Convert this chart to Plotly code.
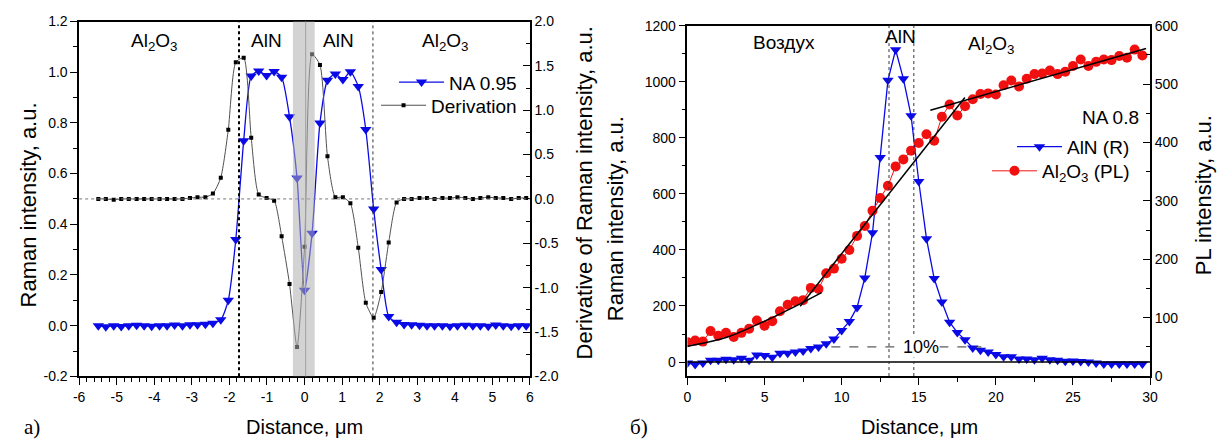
import plotly.graph_objects as go

W, H = 1227, 448
FONT = "Liberation Sans, Arial, sans-serif"

# ---------------- Panel a) data ----------------
dist_a = [-5.49, -5.29, -5.08, -4.88, -4.68, -4.47, -4.27, -4.07, -3.86, -3.66,
          -3.46, -3.25, -3.05, -2.85, -2.64, -2.44, -2.23, -2.03, -1.83, -1.62,
          -1.42, -1.22, -1.01, -0.81, -0.61, -0.40, -0.20, 0.00, 0.20, 0.41,
          0.61, 0.82, 1.02, 1.22, 1.43, 1.63, 1.84, 2.04, 2.24, 2.45,
          2.65, 2.85, 3.06, 3.26, 3.46, 3.67, 3.87, 4.07, 4.28, 4.48,
          4.68, 4.89, 5.09, 5.29, 5.50, 5.70, 5.90]
na095 = [0.0, -0.004, 0.0, -0.003, 0.0, 0.002, 0.0, -0.002, 0.0, 0.0,
         0.003, 0.0, 0.004, 0.004, 0.006, 0.01, 0.023, 0.10, 0.34, 0.73,
         0.985, 1.005, 0.987, 1.003, 0.98, 0.824, 0.583, 0.14, 0.365, 0.80,
         0.968, 0.993, 0.971, 1.002, 0.944, 0.774, 0.46, 0.222, 0.036, 0.013,
         0.005, 0.004, 0.002, 0.0, 0.0, 0.0, -0.002, 0.0, 0.002, 0.0,
         0.0, -0.002, 0.003, 0.0, -0.002, 0.0, 0.0]
derivation = [0.0, 0.0, -0.01, 0.0, 0.0, 0.0, 0.0, 0.0, 0.0, 0.0,
              0.0, 0.0, 0.01, 0.02, 0.02, 0.06, 0.24, 0.78, 1.54, 1.59,
              0.69, 0.05, 0.01, -0.02, -0.42, -0.96, -1.67, -0.54, 1.63, 1.51,
              0.48, 0.02, 0.02, -0.05, -0.55, -1.17, -1.34, -1.05, -0.49, -0.04,
              0.0, 0.0, 0.01, 0.01, 0.0, 0.01, 0.01, 0.02, 0.01, 0.0,
              0.01, 0.02, 0.01, 0.01, 0.0, 0.01, 0.01]
bound_a = [-1.745, 1.82]          # interface positions
band_a = [-0.31, 0.27]            # grey shaded region
center_a = 0.03

xticks_a = [-6, -5, -4, -3, -2, -1, 0, 1, 2, 3, 4, 5, 6]
yticks_a = [-0.2, 0.0, 0.2, 0.4, 0.6, 0.8, 1.0, 1.2]
y2ticks_a = [-2.0, -1.5, -1.0, -0.5, 0.0, 0.5, 1.0, 1.5, 2.0]

# ---------------- Panel б) data ----------------
dist_b = [0.0, 0.5, 1.0, 1.5, 2.0, 2.5, 3.0, 3.5, 4.0, 4.5,
          5.0, 5.5, 6.0, 6.5, 7.0, 7.5, 8.0, 8.5, 9.0, 9.5,
          10.0, 10.5, 11.0, 11.5, 12.0, 12.5, 13.0, 13.5, 14.0, 14.5,
          15.0, 15.5, 16.0, 16.5, 17.0, 17.5, 18.0, 18.5, 19.0, 19.5,
          20.0, 20.5, 21.0, 21.5, 22.0, 22.5, 23.0, 23.5, 24.0, 24.5,
          25.0, 25.5, 26.0, 26.5, 27.0, 27.5, 28.0, 28.5, 29.0, 29.5]
aln_r = [-3, -9, -3, 6, 6, 10, 8, 14, 6, 25,
         23, 17, 31, 31, 36, 39, 48, 54, 65, 82,
         113, 145, 195, 300, 461, 730, 1005, 1114, 1011, 879,
         644, 440, 298, 214, 142, 105, 80, 50, 42, 36,
         27, 19, 19, 11, 11, 8, 14, 8, 6, 3,
         4, 2, 0, -3, -7, -7, -7, -7, -7, -7]
al2o3_pl = [58, 61, 59, 77, 69, 74, 67, 74, 81, 95,
            86, 94, 111, 122, 128, 130, 151, 149, 176, 184,
            201, 216, 240, 257, 283, 305, 326, 359, 371, 386,
            399, 414, 403, 444, 465, 446, 462, 474, 483, 484,
            482, 498, 506, 496, 509, 517, 518, 523, 517, 521,
            531, 542, 531, 538, 542, 541, 548, 545, 559, 549]
fit1_x = [0.0, 2.5, 4.5, 6.5, 8.7]
fit1_y = [51, 66, 88, 113, 143]
fit2_x = [7.31, 17.99]
fit2_y = [119.5, 477]
fit3_x = [15.75, 29.74]
fit3_y = [455, 561]
bound_b = [13.07, 14.68]
level10_x = [9.33, 19.06]
level10_y = 54

BLUE = "#0a0ae6"
RED = "#f01010"

fig = go.Figure()

# Panel a traces
fig.add_trace(go.Scatter(x=dist_a, y=derivation, name="Derivation", yaxis="y2", xaxis="x",
                         mode="lines+markers", line=dict(color="#505050", width=1, shape="spline", smoothing=0.6),
                         marker=dict(symbol="square", size=4, color="black"), legend="legend2"))
fig.add_trace(go.Scatter(x=dist_a, y=na095, name="NA 0.95", yaxis="y", xaxis="x",
                         mode="lines+markers", line=dict(color=BLUE, width=1.3, shape="spline", smoothing=0.6),
                         marker=dict(symbol="triangle-down", size=10, color=BLUE), legend="legend"))

# Panel b traces
fig.add_trace(go.Scatter(x=dist_b, y=al2o3_pl, name="Al<sub>2</sub>O<sub>3</sub> (PL)", xaxis="x2", yaxis="y4",
                         mode="lines+markers", line=dict(color=RED, width=1),
                         marker=dict(symbol="circle", size=10, color=RED), legend="legend4"))
fig.add_trace(go.Scatter(x=dist_b, y=aln_r, name="AlN (R)", xaxis="x2", yaxis="y3",
                         mode="lines+markers", line=dict(color=BLUE, width=1.3),
                         marker=dict(symbol="triangle-down", size=10, color=BLUE), legend="legend3"))
for fx, fy in [(fit1_x, fit1_y), (fit2_x, fit2_y), (fit3_x, fit3_y)]:
    fig.add_trace(go.Scatter(x=fx, y=fy, xaxis="x2", yaxis="y4", mode="lines", showlegend=False,
                             line=dict(color="black", width=1.5, shape="spline"), hoverinfo="skip"))

tickfont = dict(family=FONT, size=14, color="black")
axis_common = dict(showgrid=False, zeroline=False, showline=True, linecolor="black", linewidth=1.5,
                   tickfont=tickfont, tickcolor="black", tickwidth=1)

leg_common = dict(xanchor="right", yanchor="middle", bgcolor="rgba(0,0,0,0)",
                  font=dict(family=FONT, size=19), itemwidth=45)

fig.update_layout(
    width=W, height=H, margin=dict(l=0, r=0, t=0, b=0),
    paper_bgcolor="white", plot_bgcolor="white",
    font=dict(family=FONT, color="black"),
    xaxis=dict(domain=[74 / W, 530 / W], range=[-6, 6], anchor="y", mirror=True,
               tickmode="array", tickvals=xticks_a, ticktext=[str(v) for v in xticks_a],
               ticks="outside", ticklen=7,
               minor=dict(tick0=-6, dtick=0.2, ticks="outside", ticklen=4, tickcolor="black"),
               **axis_common),
    yaxis=dict(domain=[1 - 382 / H, 1 - 14 / H], range=[-0.2, 1.2], anchor="x",
               tickmode="array", tickvals=yticks_a, ticktext=[f"{v:.1f}" for v in yticks_a],
               ticks="outside", ticklen=7,
               minor=dict(tick0=-0.2, dtick=0.1, ticks="outside", ticklen=4, tickcolor="black"),
               **axis_common),
    yaxis2=dict(overlaying="y", side="right", anchor="x", range=[-2, 2],
                tickmode="array", tickvals=y2ticks_a, ticktext=[f"{v:.1f}" for v in y2ticks_a],
                ticks="inside", ticklen=7,
                minor=dict(tick0=-2, dtick=0.25, ticks="inside", ticklen=4, tickcolor="black"),
                **axis_common),
    xaxis2=dict(domain=[689.3 / W, 1157.3 / W], range=[0, 30], anchor="y3", mirror=True,
                dtick=5, ticks="outside", ticklen=7,
                minor=dict(dtick=2.5, ticks="outside", ticklen=4, tickcolor="black"),
                **axis_common),
    yaxis3=dict(domain=[1 - 381.7 / H, 1 - 18.3 / H], range=[-50, 1200], anchor="x2",
                tick0=0, dtick=200, ticks="outside", ticklen=7,
                minor=dict(tick0=0, dtick=100, ticks="outside", ticklen=4, tickcolor="black"),
                **axis_common),
    yaxis4=dict(overlaying="y3", side="right", anchor="x2", range=[0, 600],
                dtick=100, ticks="inside", ticklen=7,
                minor=dict(dtick=50, ticks="inside", ticklen=4, tickcolor="black"),
                **axis_common),
    legend=dict(x=522 / W, y=1 - 77 / H, **leg_common),
    legend2=dict(x=522 / W, y=1 - 101 / H, **leg_common),
    legend3=dict(x=1142 / W, y=1 - 144 / H, **leg_common),
    legend4=dict(x=1142 / W, y=1 - 169 / H, **leg_common),
)

shapes = []
# panel a reference lines
shapes.append(dict(type="line", xref="x", yref="y2", x0=-6, x1=6, y0=0, y1=0,
                   line=dict(color="#777777", width=1, dash="dot")))
shapes.append(dict(type="line", xref="x", yref="y domain", x0=bound_a[0], x1=bound_a[0], y0=0, y1=1,
                   line=dict(color="black", width=2, dash="dot")))
shapes.append(dict(type="line", xref="x", yref="y domain", x0=bound_a[1], x1=bound_a[1], y0=0, y1=1,
                   line=dict(color="#333333", width=1, dash="dot")))
shapes.append(dict(type="rect", xref="x", yref="y domain", x0=band_a[0], x1=band_a[1], y0=0, y1=1,
                   fillcolor="rgba(175,175,175,0.55)", line=dict(width=0), layer="above"))
shapes.append(dict(type="line", xref="x", yref="y domain", x0=center_a, x1=center_a, y0=0, y1=1,
                   line=dict(color="#a0a0a0", width=1), layer="above"))
# panel b reference lines
shapes.append(dict(type="line", xref="x2", yref="y3", x0=0, x1=30, y0=0, y1=0,
                   line=dict(color="black", width=1.5)))
for bx in bound_b:
    shapes.append(dict(type="line", xref="x2", yref="y3 domain", x0=bx, x1=bx, y0=0, y1=1,
                       line=dict(color="#333333", width=1, dash="dot")))
shapes.append(dict(type="line", xref="x2", yref="y3", x0=level10_x[0], x1=level10_x[1],
                   y0=level10_y, y1=level10_y, line=dict(color="#333333", width=1, dash="dash")))
fig.update_layout(shapes=shapes)

ann = []
lab = dict(family=FONT, size=19, color="black")
AL2O3 = "Al<sub>2</sub>O<sub>3</sub>"
C = dict(showarrow=False, xanchor="center", yanchor="middle")
ann.append(dict(x=-4.0, y=1.12, xref="x", yref="y", text=AL2O3, font=lab, **C))
ann.append(dict(x=-1.02, y=1.127, xref="x", yref="y", text="AlN", font=lab, **C))
ann.append(dict(x=0.91, y=1.127, xref="x", yref="y", text="AlN", font=lab, **C))
ann.append(dict(x=3.76, y=1.12, xref="x", yref="y", text=AL2O3, font=lab, **C))
ann.append(dict(x=6.24, y=1139, xref="x2", yref="y3", text="Воздух", font=lab, **C))
ann.append(dict(x=13.83, y=1163, xref="x2", yref="y3", text="AlN", font=lab, **C))
ann.append(dict(x=19.7, y=1130, xref="x2", yref="y3", text=AL2O3, font=lab, **C))
ann.append(dict(x=29.4, y=874, xref="x2", yref="y3", text="NA 0.8", showarrow=False, font=lab,
                xanchor="right", yanchor="middle"))
ann.append(dict(x=15.15, y=level10_y, xref="x2", yref="y3", text="10%",
                font=dict(family=FONT, size=18, color="black"), bgcolor="white", borderpad=0, **C))

title_h = dict(family=FONT, size=20, color="black")
title_v = dict(family=FONT, size=22, color="black")
P = dict(xref="paper", yref="paper", **C)
ann.append(dict(x=302 / W, y=1 - 435 / H, text="Distance, μm", font=title_h, **P))
ann.append(dict(x=924 / W, y=1 - 435 / H, text="Distance, μm", font=title_h, **P))
ann.append(dict(x=23 / W, y=1 - 204 / H, text="Raman intensity, a.u.", textangle=-90, font=title_v, **P))
ann.append(dict(x=585 / W, y=1 - 192 / H, text="Derivative of Raman intensity, a.u.", textangle=-90,
                font=title_v, **P))
ann.append(dict(x=616 / W, y=1 - 218 / H, text="Raman intensity, a.u.", textangle=-90, font=title_v, **P))
ann.append(dict(x=1211 / W, y=1 - 194 / H, text="PL intensity, a.u.", textangle=-90, font=title_v, **P))
serif = dict(family="Liberation Serif, Times New Roman, serif", size=21, color="black")
ann.append(dict(x=26 / W, y=1 - 435 / H, text="a)", font=serif, **P))
ann.append(dict(x=640 / W, y=1 - 435 / H, text="б)", font=serif, **P))
fig.update_layout(annotations=ann)

fig.write_html("out.html")
